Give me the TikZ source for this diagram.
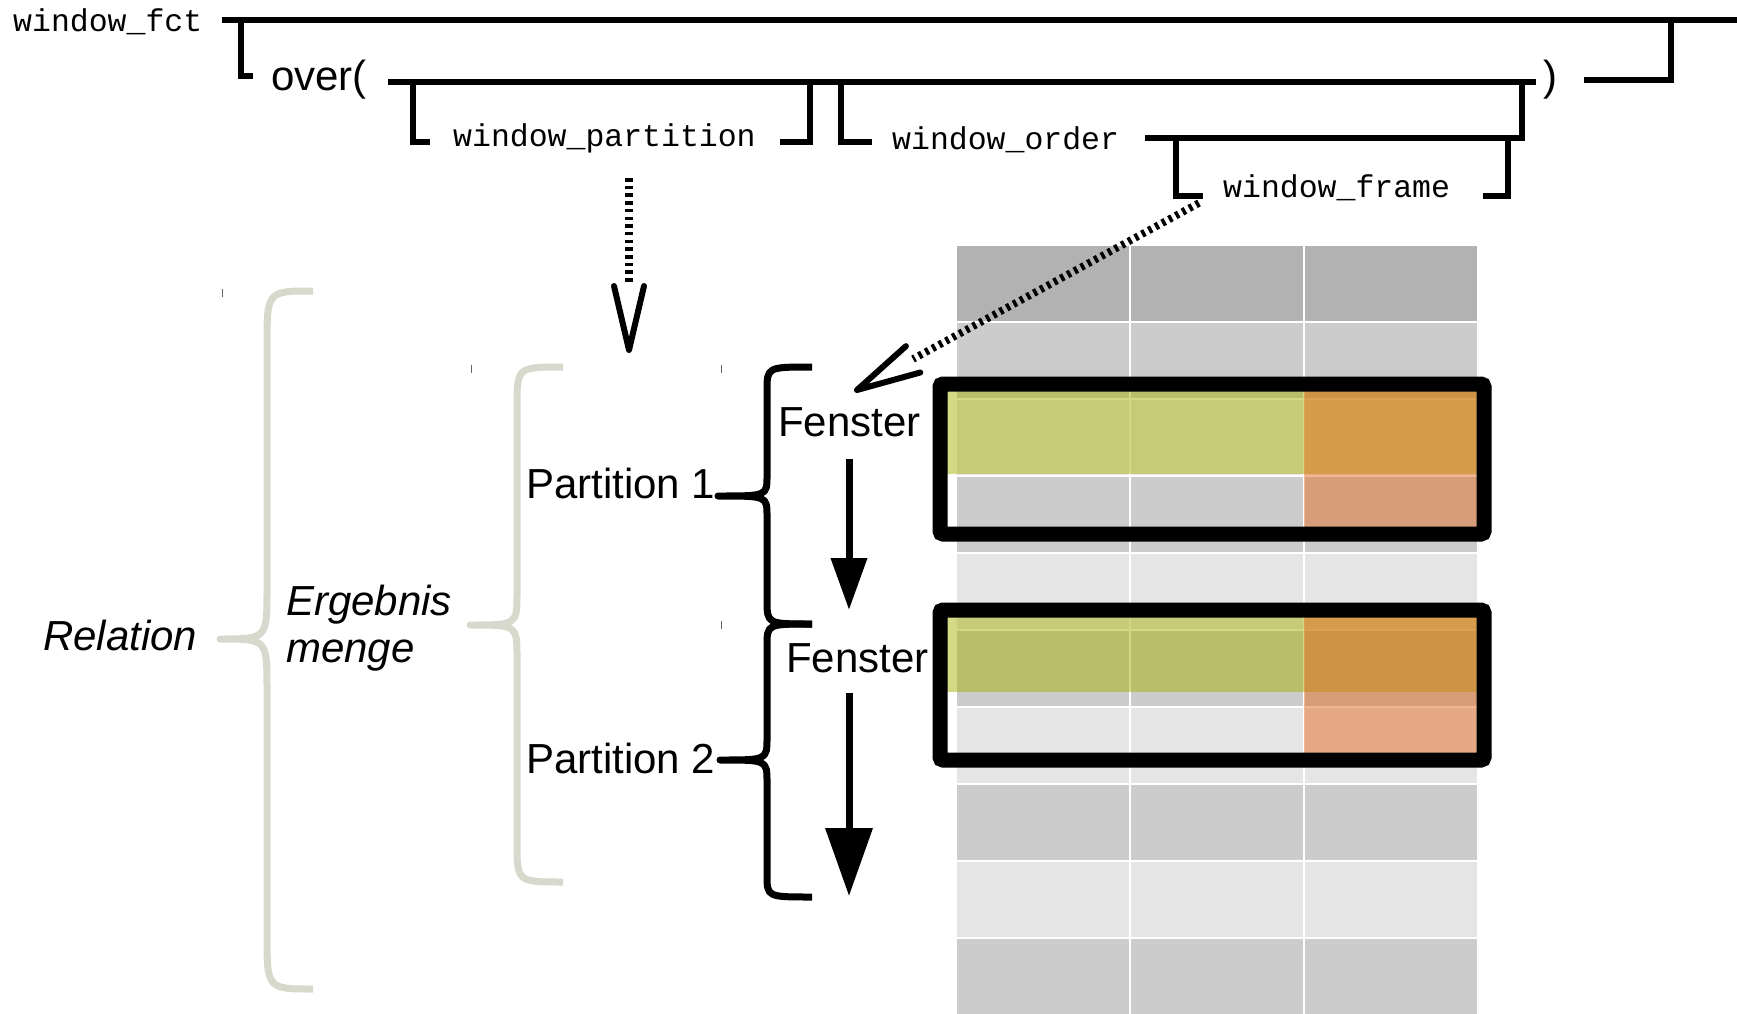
\documentclass[tikz,border=0pt]{standalone}
\usepackage{fontspec}
\setmainfont{Liberation Sans}
\setmonofont{Liberation Mono}
\usetikzlibrary{arrows.meta,calc}
\definecolor{grisacc}{RGB}{217,216,205}
\definecolor{vertfen}{RGB}{165,175,0}
\definecolor{orangefen}{RGB}{229,104,29}

\begin{document}
\begin{tikzpicture}[x=1pt, y=-1pt,
    voie/.style={line width=6.5pt},
    syntaxe/.style={font=\ttfamily\fontsize{31.5}{36}\selectfont, inner sep=0pt, anchor=west},
    etiq/.style={font=\fontsize{42}{48}\selectfont, inner sep=0pt, anchor=base west},
    pointille/.style={line width=7.5pt, dash pattern=on 3.5pt off 4.2pt},
    barbe/.style={line width=6pt, line cap=round, line join=round},
    fleche/.style={line width=7pt},
    accolade/.style={line width=7pt, line join=round},
    cadre/.style={line width=15pt, rounded corners=3pt}]
\useasboundingbox (0,0) rectangle (1737,1014);

% 1. Le tableau (lignes de 77pt, trois colonnes)
\foreach \r/\coul in {0/black!30,1/black!20,2/black!10,3/black!20,4/black!10,
                      5/black!20,6/black!10,7/black!20,8/black!10,9/black!20} {
    \foreach \x in {956,1130,1304} {
        \filldraw[fill=\coul, draw=white, line width=1.5pt] (\x,245+77*\r) rectangle (\x+174,322+77*\r);
    }
}

% 2. Les deux fenetres : ligne courante en vert, colonne en orange, cadre noir
\foreach \h/\v/\b in {384/474/534, 610/692/760} {
    \fill[vertfen, opacity=0.48] (940,\h) rectangle (1484,\v);
    \fill[orangefen, opacity=0.48] (1304,\h) rectangle (1484,\b);
    \draw[cadre] (940,\h) rectangle (1484,\b);
}

% 3. Les accolades (bout, tige, pointe, haut, milieu, bas, rayons, couleur)
\foreach \e/\s/\c/\t/\m/\b/\rr/\q/\coul in {313/267/220/291/639/989/55/50/grisacc,
                                         563/517/470/367/625/882/40/32/grisacc,
                                         812/767/718/367/496/624/24/20/black,
                                         812/767/720/624/760/897/22/22/black} {
    \draw[accolade, \coul] (\e,\t) .. controls (\s,\t) .. (\s,\t+\rr) -- (\s,\m-\q)
        .. controls (\s,\m) .. (\c,\m) .. controls (\s,\m) .. (\s,\m+\q)
        -- (\s,\b-\rr) .. controls (\s,\b) .. (\e,\b);
}

% petits traits isoles
\foreach \x/\y in {222/289, 471/365, 721/365, 721/621} {
    \draw[black!60, line width=1pt] (\x,\y) -- (\x,\y+8);
}

% 4. Les textes
\node[etiq] (rel) at (43,650) {\itshape Relation};
\node[etiq] (erg1) at (286,615) {\itshape Ergebnis};
\node[etiq] (erg2) at (286,662) {\itshape menge};
\node[etiq] (part1) at (526,498) {Partition 1};
\node[etiq] (part2) at (526,773) {Partition 2};
\node[etiq, anchor=base] (fen1) at (849.5,436) {Fenster};
\node[etiq, anchor=base] (fen2) at (857.5,672) {Fenster};

% 5. La syntaxe en haut
\node[syntaxe] (wfct) at (13,22) {window\_fct};
\node[etiq] (over) at (271,91) {over(};
\node[etiq] (ferme) at (1543,91) {)};
\node[syntaxe] (wpart) at (453,138) {window\_partition};
\node[syntaxe] (word) at (892,140) {window\_order};
\node[syntaxe] (wframe) at (1223,188) {window\_frame};

\draw[voie] (222,20) -- (1737,20);
\draw[voie] (241,20) -- (241,76) -- (253,76);
\draw[voie] (1671,20) -- (1671,80) -- (1584,80);
\draw[voie] (388,82) -- (1536,82);
\draw[voie] (413,82) -- (413,142) -- (430,142);
\draw[voie] (780,142) -- (810,142) -- (810,82);
\draw[voie] (841,82) -- (841,142) -- (872,142);
\draw[voie] (1145,138) -- (1522,138) -- (1522,82);
\draw[voie] (1176,135) -- (1176,196) -- (1203,196);
\draw[voie] (1483,196) -- (1508,196) -- (1508,138);

% 6. Les fleches
\coordinate (f1) at (849,610);
\coordinate (f2) at (849,896);
\draw[fleche, -{Triangle[length=52pt, width=35pt]}, shorten <=22pt] (fen1.south -| f1) -- (f1);
\draw[fleche, -{Triangle[length=68pt, width=46pt]}, shorten <=20pt] (fen2.south -| f2) -- (f2);

% fleches en pointille avec pointe ouverte
\coordinate (d1) at (629,178);
\coordinate (d1b) at (629,284);
\coordinate (d1t) at (629,350);
\draw[pointille] (d1) -- (d1b);
\draw[barbe] ($(d1t)!65.7pt!13.2:(d1)$) -- (d1t) -- ($(d1t)!65.7pt!-13.2:(d1)$);

\coordinate (d2) at (1199,203);
\coordinate (d2b) at (913,359);
\coordinate (d2t) at (857,390);
\draw[pointille] (d2) -- (d2b);
\draw[barbe] ($(d2t)!65.7pt!13.2:(d2)$) -- (d2t) -- ($(d2t)!65.7pt!-13.2:(d2)$);
\end{tikzpicture}
\end{document}
